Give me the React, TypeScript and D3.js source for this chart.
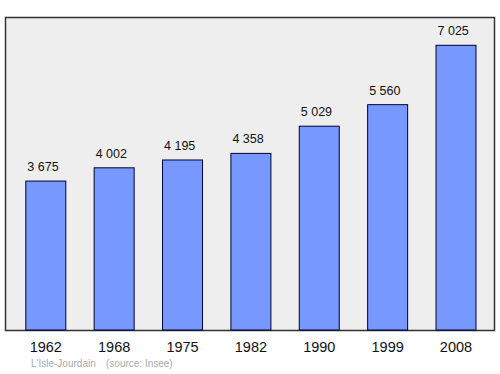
import React from "react";
import * as d3 from "d3";

const years = ["1962", "1968", "1975", "1982", "1990", "1999", "2008"];
const population = [3675, 4002, 4195, 4358, 5029, 5560, 7025];
const caption = "L'Isle-Jourdain";
const source = "(source: Insee)";

const fmt = (v: number) => d3.format(",")(v).replace(/,/g, " ");

export default function App() {
  const W = 500, H = 374;
  const x = d3.scalePoint<string>().domain(years).range([45.8, 456]);
  const y = d3.scaleLinear().domain([0, 7025]).range([330, 45.3]);
  const bw = 40;
  return (
    <svg width={W} height={H} style={{ position: "absolute", left: 0, top: 0 }} fontFamily="Liberation Sans, Arial, sans-serif">
      <rect x={5.5} y={17.5} width={489} height={313} fill="#eeeeee" stroke="#333" strokeWidth={1.5} />
      {years.map((yr, i) => (
        <g key={yr}>
          <rect x={x(yr)! - bw / 2} y={y(population[i])} width={bw} height={y(0) - y(population[i])} fill="#7799ff" stroke="#000033" strokeWidth={1} />
          <text x={x(yr)! - bw / 2 + 1.5} y={y(population[i]) - 10} fontSize={12.5} fill="#111">{fmt(population[i])}</text>
          <text x={x(yr)} y={352} textAnchor="middle" fontSize={14.5} fill="#111">{yr}</text>
        </g>
      ))}
      <text x={31} y={367} fontSize={10} fill="#aaa">{caption}</text>
      <text x={106} y={367} fontSize={10} fill="#aaa">{source}</text>
    </svg>
  );
}
